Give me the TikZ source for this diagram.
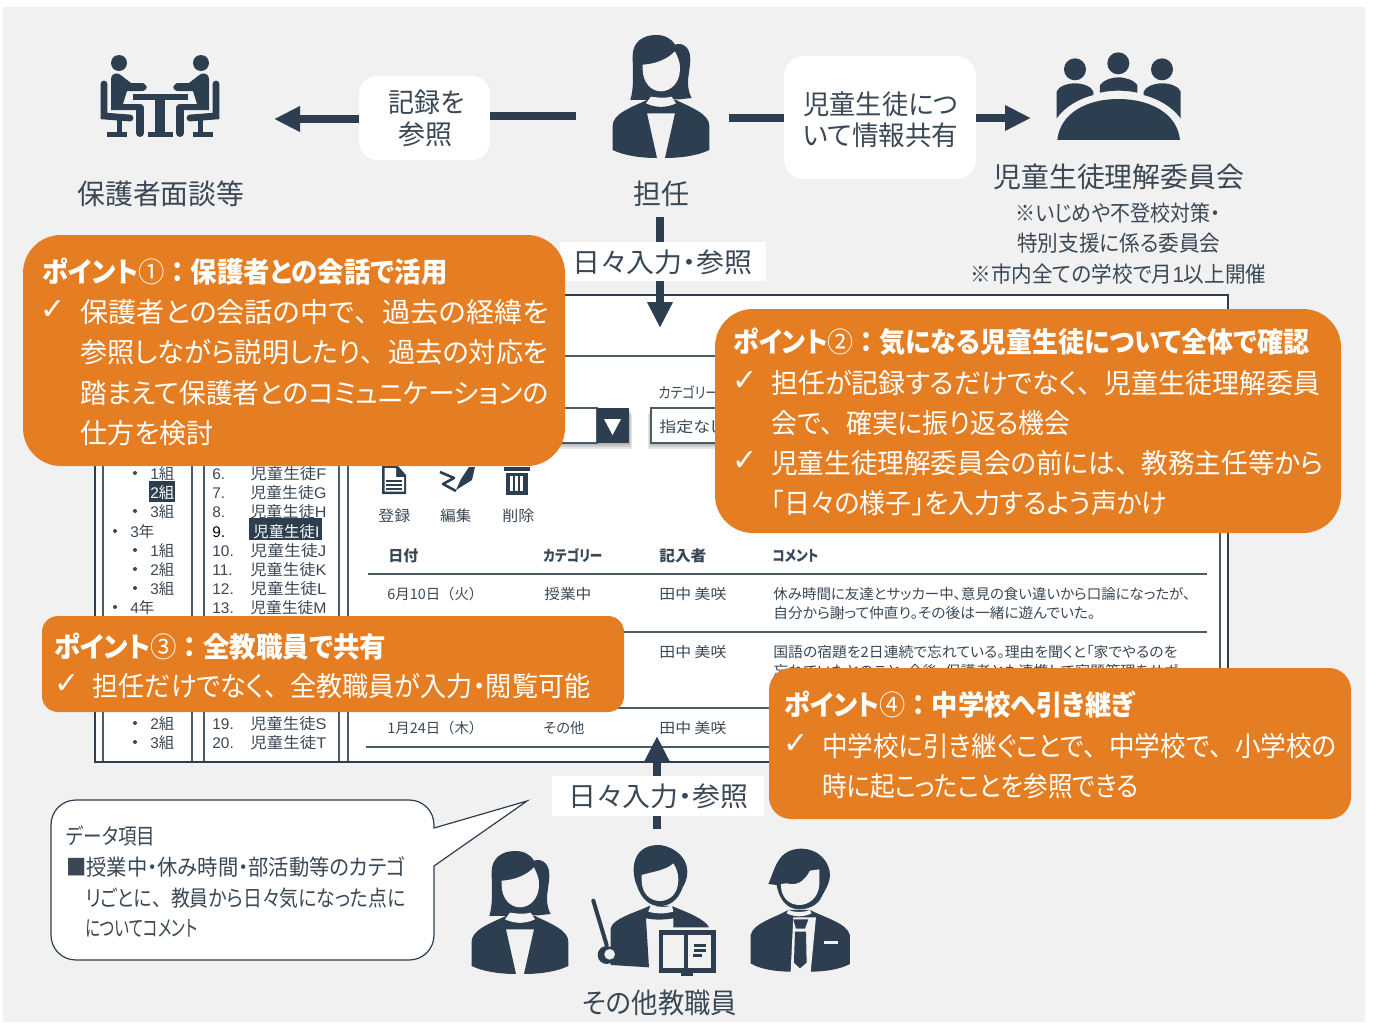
\documentclass[tikz,border=0pt]{standalone}
\usepackage{fontspec}
\usepackage{graphicx}
\setmainfont[RawFeature=+palt]{Noto Sans CJK JP}
\newfontfamily\nopalt{Noto Sans CJK JP}
\newfontfamily\lat{Liberation Sans}
\newfontfamily\sym{DejaVu Sans}
\usetikzlibrary{arrows.meta}
\definecolor{ink}{HTML}{2C3E50}
\definecolor{txtc}{HTML}{3A4856}
\definecolor{orng}{HTML}{E57E23}
\definecolor{bgc}{HTML}{F1F1F1}
\newsavebox\fitbox
\newlength\fitlen
\newcommand\fitw[2]{\sbox\fitbox{#2}\setlength\fitlen{\wd\fitbox}\pgfmathsetmacro\fitr{#1*0.5/\fitlen}\scalebox{\fitr}[1]{\usebox\fitbox}}
\newcommand\ful[1]{{\nopalt #1}}
\newcommand\pnum[1]{{\mdseries\nopalt #1}}
\tikzset{
  txt/.style={inner sep=0pt,anchor=west,yshift=-0.4pt,text=txtc,font=\fontsize{#1}{#1}\selectfont},
  wtxt/.style={inner sep=0pt,anchor=west,yshift=-0.4pt,text=white,font=\fontsize{#1}{#1}\selectfont},
  wbold/.style={inner sep=0pt,anchor=west,yshift=-0.4pt,text=white,font=\fontsize{#1}{#1}\selectfont\bfseries},
  tick/.style={inner sep=0pt,text=white,font=\sym\fontsize{15}{15}\selectfont},
  ico/.style={fill=ink},
  hole/.style={fill=bgc},
  obox/.style={fill=orng,inner sep=0pt,draw=none},
  wbox/.style={fill=white,inner sep=0pt,draw=none},
  conn/.style={draw=ink,line width=4pt},
  wline/.style={draw=ink!85,line width=0.8pt},
  frame/.style={draw=ink!85,line width=1.1pt},
  big tip/.style={-{Triangle[length=13pt,width=12pt]}},
}
\newcommand\femaleicon{
  \fill[ico] (88,258) .. controls (100,220) and (95,170) .. (95,125) .. controls (95,85) and (125,63) .. (165,63) .. controls (190,63) and (210,72) .. (222,92) .. controls (240,85) and (268,95) .. (268,135) .. controls (268,175) and (250,210) .. (272,252) -- (235,256) -- (130,258) -- cycle;
  \fill[hole] (125,152) .. controls (165,150) and (200,135) .. (222,112) .. controls (230,130) and (237,140) .. (237,165) .. controls (237,205) and (210,232) .. (180,232) .. controls (150,232) and (125,205) .. (125,165) -- cycle;
  \fill[ico] (35,408) -- (35,335) .. controls (35,300) and (90,280) .. (138,258) -- (225,258) .. controls (270,280) and (325,300) .. (325,335) -- (325,408) .. controls (290,425) and (240,432) .. (192,432) -- (222,298) -- (138,298) -- (168,432) .. controls (120,432) and (70,425) .. (35,408) -- cycle;
  \fill[hole] (150,248) .. controls (175,252) and (200,252) .. (212,248) -- (225,268) .. controls (195,282) and (165,282) .. (135,268) -- cycle;
}
\begin{document}
\begin{tikzpicture}[x=0.5pt,y=-0.5pt]
\useasboundingbox (0,0) rectangle (1373,1023);
\fill[white] (0,0) rectangle (1373,1023);
\fill[bgc] (3,7) rectangle (1365,1022);

% ---------- window ----------
\fill[white] (95,295) rectangle (1228,762);
\draw[draw=ink,line width=1.4pt] (95,295) rectangle (1228,762);
\draw[frame] (103,300) -- (103,761);
\draw[frame] (192,300) -- (192,761);
\draw[frame] (204,300) -- (204,761);
\draw[frame] (339,300) -- (339,761);
\draw[frame] (348,300) -- (348,761);
\draw[frame] (1220,356) -- (1220,761);
\draw[wline] (348,356) -- (1220,356);
\draw[wline] (368,574) -- (1207,574);
\draw[wline] (368,632) -- (1207,632);
\draw[wline] (368,708) -- (1207,708);
\draw[wline] (366,747) -- (1207,747);

% left lists
\fill[ink] (149,481) rectangle (175,502);
\fill[ink] (249,518) rectangle (322,540);
\node[inner sep=0pt,anchor=west,yshift=-0.4pt,text=white,font=\fontsize{7.7}{7.7}\selectfont] (g12) at (150,492) {{\lat 2}組};
\foreach \y/\t/\n in {473/1/a,511/3/b,550/1/c,569/2/d,588/3/e,723/2/f,742/3/g}{
  \fill[txtc] (135,\y) circle (2);
  \node[txt=7.7] (g\n) at (150,\y) {{\lat \t}組};
}
\foreach \y/\t/\n in {531/3/h,607/4/i}{
  \fill[txtc] (115,\y) circle (2);
  \node[txt=7.7] (g\n) at (130,\y) {{\lat \t}年};
}
\foreach \y/\t/\m in {473/6/F,492/7/G,511/8/H,550/10/J,569/11/K,588/12/L,607/13/M,723/19/S,742/20/T}{
  \node[txt=7.7] (n\t) at (212,\y) {{\lat \t.}};
  \node[txt=7.7] (s\t) at (250,\y) {\fitw{76}{児童生徒{\lat \m}}};
}
\node[inner sep=0pt,anchor=west,yshift=-0.4pt,text=black,font=\fontsize{7.7}{7.7}\selectfont] (n9) at (212,531) {{\lat 9.}};
\node[inner sep=0pt,anchor=west,yshift=-0.4pt,text=white,font=\fontsize{7.7}{7.7}\selectfont] (s9) at (253,531) {児童生徒{\lat I}};

% filters
\foreach \d in {2,4,6}{
  \fill[black,opacity=.1] (560,408+\d) rectangle (629+\d*0.5,443+\d);
  \fill[black,opacity=.1] (651-\d*0.5,408+\d) rectangle (790,443+\d);
}
\draw[frame,fill=white] (540,408) rectangle (597,443);
\fill[ink] (597,408) rectangle (629,443);
\fill[white] (604,419) -- (621,419) -- (612.5,435) -- cycle;
\draw[frame,fill=white] (651,408) rectangle (790,443);
\node[txt=7.5] (catl) at (658,392) {\fitw{60}{カテゴリー}};
\node[txt=7.5] (catv) at (659,426) {\fitw{65}{指定なし}};

% tool icons
\fill[ink] (382,466) -- (398,466) -- (406,475) -- (406,494) -- (382,494) -- cycle;
\fill[white] (384.5,468) -- (396,468) -- (396,477) -- (404,477) -- (404,491.5) -- (384.5,491.5) -- cycle;
\foreach \y in {480,484,488}{\fill[ink] (386,\y) rectangle (402,\y+2);}
\draw[ink,line width=1.3pt,line join=round] (440,472) -- (454,478) -- (443,484) -- (456,491);
\fill[ink] (456,490) -- (461,479) -- (469,467) -- (475,467) -- (472,480) -- cycle;
\fill[ink] (504,467) rectangle (530,471);
\fill[ink] (506,473) rectangle (528,495);
\foreach \x in {510,515,520}{\fill[white] (\x,476) rectangle (\x+3,491);}
\node[txt=7.5] (reg) at (378,515) {\fitw{32}{登録}};
\node[txt=7.5] (edi) at (440,515) {\fitw{31}{編集}};
\node[txt=7.5] (del) at (502,515) {\fitw{32}{削除}};

% table
\node[txt=7.5,font=\fontsize{7.5}{7.5}\selectfont\bfseries] (h1) at (388,555) {\fitw{30}{日付}};
\node[txt=7.5,font=\fontsize{7.5}{7.5}\selectfont\bfseries] (h2) at (543,555) {\fitw{59}{カテゴリー}};
\node[txt=7.5,font=\fontsize{7.5}{7.5}\selectfont\bfseries] (h3) at (659,555) {\fitw{47}{記入者}};
\node[txt=7.5,font=\fontsize{7.5}{7.5}\selectfont\bfseries] (h4) at (772,555) {\fitw{46}{コメント}};
\node[txt=7.2] (r1a) at (387,593) {\fitw{96}{6月10日\ful{（}火\ful{）}}};
\node[txt=7.2] (r1b) at (544,593) {\fitw{47}{授業中}};
\node[txt=7.2] (r1c) at (659,593) {\fitw{67}{田中 美咲}};
\node[txt=7.2] (r1d) at (773,593) {\fitw{417}{休み時間に友達とサッカー中、意見の食い違いから口論になったが、}};
\node[txt=7.2] (r1e) at (773,612) {\fitw{322}{自分から謝って仲直り。その後は一緒に遊んでいた。}};
\node[txt=7.2] (r2c) at (659,651) {\fitw{67}{田中 美咲}};
\node[txt=7.2] (r2d) at (773,651) {\fitw{404}{国語の宿題を2日連続で忘れている。理由を聞くと「家でやるのを}};
\node[txt=7.2] (r2e) at (773,670) {\fitw{405}{忘れていたとのこと。今後、保護者とも連携して宿題管理をサポ}};
\node[txt=7.2] (r3a) at (387,727) {\fitw{96}{1月24日\ful{（}木\ful{）}}};
\node[txt=7.2] (r3b) at (543,727) {\fitw{41}{その他}};
\node[txt=7.2] (r3c) at (659,727) {\fitw{67}{田中 美咲}};

% ---------- top icons ----------
\begin{scope}[shift={(601,14)},scale=0.3333]\femaleicon\end{scope}
% meeting
\begin{scope}
  \foreach \m in {0,1}{
  \begin{scope}[shift={(\m*320,0)},xscale={1-2*\m}]
    \fill[ink] (119,63) ellipse (8 and 8);
    \draw[ink,line width=3.4pt,line cap=round] (104,84) -- (104,116) -- (130,118);
    \fill[ink] (111,110) -- (111,80) .. controls (111,72) and (118,72) .. (122,76) -- (131,83) -- (143,83) .. controls (148,86) and (148,89) .. (143,91) -- (127,91) -- (123,104) -- (140,104) .. controls (144,105) and (144,108) .. (144,110) -- cycle;
    \draw[ink,line width=4pt,line cap=round] (140,108) -- (140,133);
    \fill[ink] (117,118) rectangle (122,133);
    \fill[ink] (107,132) rectangle (127,137);
  \end{scope}}
  \fill[ink] (133,94) rectangle (188,100);
  \fill[ink] (155,100) rectangle (165,133);
  \fill[ink] (148,132) rectangle (173,137);
\end{scope}
% committee
\begin{scope}[shift={(1030,30)},scale=0.3333]
  \fill[ink] (135,118) circle (33);
  \fill[ink] (265,100) circle (33);
  \fill[ink] (396,118) circle (33);
  \fill[ink] (80,265) -- (80,185) .. controls (85,170) and (110,160) .. (135,160) .. controls (160,160) and (185,170) .. (190,185) -- (190,195) .. controls (145,207) and (105,230) .. (80,265) -- cycle;
  \fill[ink] (452,265) -- (452,185) .. controls (447,170) and (422,160) .. (397,160) .. controls (372,160) and (347,170) .. (341,185) -- (341,195) .. controls (386,207) and (426,230) .. (452,265) -- cycle;
  \fill[ink] (210,188) -- (210,165) .. controls (220,150) and (245,142) .. (265,142) .. controls (285,142) and (312,150) .. (322,165) -- (322,188) .. controls (285,180) and (245,180) .. (210,188) -- cycle;
  \fill[ink] (82,330) .. controls (90,250) and (170,207) .. (265,207) .. controls (360,207) and (442,250) .. (450,330) -- cycle;
\end{scope}

% ---------- labels top ----------
\node[txt=14] (lmeet) at (77,193) {\fitw{167}{保護者面談等}};
\node[txt=14] (lteach) at (633,193) {\fitw{56}{担任}};
\node[txt=14] (lcomm) at (993,176) {\fitw{251}{児童生徒理解委員会}};
\node[txt=11] (lc1) at (1015,212) {\fitw{205}{※いじめや不登校対策・}};
\node[txt=11] (lc2) at (1017,242) {\fitw{203}{特別支援に係る委員会}};
\node[txt=11] (lc3) at (970,273) {\fitw{296}{※市内全ての学校で月{\lat 1}以上開催}};

% connector labels
\node[wbox,rounded corners=9pt,minimum width=65.5pt,minimum height=42pt] (rec) at (424.5,118) {};
\node[txt=13.5] (rec1) at (388,101) {\fitw{76}{記録を}};
\node[txt=13.5] (rec2) at (398,134) {\fitw{54}{参照}};
\node[wbox,rounded corners=10pt,minimum width=96pt,minimum height=61.5pt] (share) at (880,117.5) {};
\node[txt=13.5] (sh1) at (803,103) {\fitw{155}{児童生徒につ}};
\node[txt=13.5] (sh2) at (803,134) {\fitw{155}{いて情報共有}};
\node[wbox,minimum width=103pt,minimum height=19.5pt] (day1) at (663,261.5) {};
\node[txt=13.5] (day1t) at (572,262) {\fitw{180}{日々入力・参照}};
\node[wbox,minimum width=106pt,minimum height=20pt] (day2) at (658,796) {};
\node[txt=13.5] (day2t) at (568,796) {\fitw{180}{日々入力・参照}};

% ---------- connectors ----------
\coordinate (tleft) at (576,116);
\coordinate (mtip) at (274,119);
\coordinate (tright) at (729,118);
\coordinate (ctip) at (1031,118);
\coordinate (tdown) at (660,217);
\coordinate (wtip) at (660,328);
\coordinate (wup) at (657,736);
\coordinate (ostaff) at (657,829);
\draw[conn] (tleft) -- (rec.east |- tleft);
\draw[conn,big tip] (rec.west |- mtip) -- (mtip);
\draw[conn] (tright) -- (share.west |- tright);
\draw[conn,big tip] (share.east |- ctip) -- (ctip);
\draw[conn] (tdown) -- (tdown |- day1.north);
\draw[conn,big tip] (wtip |- day1.south) -- (wtip);
\draw[conn,big tip] (wup |- day2.north) -- (wup);
\draw[conn] (ostaff |- day2.south) -- (ostaff);

% ---------- orange boxes ----------
\node[obox,rounded corners=19pt,minimum width=271pt,minimum height=115.5pt] (p1) at (294,350.5) {};
\node[wbold=14] (p1t) at (42,271) {\fitw{405}{ポイント\pnum{①}\ful{：}保護者との会話で活用}};
\node[tick] (p1c) at (53,310) {✓};
\node[wtxt=13.7] (p1a) at (80,311) {\fitw{468}{保護者との会話の中で\ful{、}過去の経緯を}};
\node[wtxt=13.7] (p1b) at (80,351) {\fitw{468}{参照しながら説明したり\ful{、}過去の対応を}};
\node[wtxt=13.7] (p1d) at (80,392) {\fitw{468}{踏まえて保護者とのコミュニケーションの}};
\node[wtxt=13.7] (p1e) at (80,432) {\fitw{133}{仕方を検討}};

\node[obox,rounded corners=19pt,minimum width=313pt,minimum height=112pt] (p2) at (1028,421) {};
\node[wbold=14] (p2t) at (733,341) {\fitw{576}{ポイント\pnum{②}\ful{：}気になる児童生徒について全体で確認}};
\node[tick] (p2c) at (745,381) {✓};
\node[wtxt=13.7] (p2a) at (771,382) {\fitw{549}{担任が記録するだけでなく\ful{、}児童生徒理解委員}};
\node[wtxt=13.7] (p2b) at (771,422) {\fitw{299}{会で\ful{、}確実に振り返る機会}};
\node[tick] (p2e) at (745,461) {✓};
\node[wtxt=13.7] (p2f) at (771,462) {\fitw{552}{児童生徒理解委員会の前には\ful{、}教務主任等から}};
\node[wtxt=13.7] (p2g) at (771,502) {\fitw{396}{「日々の様子」を入力するよう声かけ}};

\node[obox,rounded corners=8pt,minimum width=291pt,minimum height=48pt] (p3) at (333,664) {};
\node[wbold=14] (p3t) at (54,646) {\fitw{332}{ポイント\pnum{③}\ful{：}全教職員で共有}};
\node[tick] (p3c) at (67,684) {✓};
\node[wtxt=13.7] (p3a) at (92,685) {\fitw{498}{担任だけでなく\ful{、}全教職員が入力・閲覧可能}};

\node[obox,rounded corners=11pt,minimum width=291pt,minimum height=75.5pt] (p4) at (1060,743.5) {};
\node[wbold=14] (p4t) at (784,704) {\fitw{351}{ポイント\pnum{④}\ful{：}中学校へ引き継ぎ}};
\node[tick] (p4c) at (796,744) {✓};
\node[wtxt=13.7] (p4a) at (822,745) {\fitw{514}{中学校に引き継ぐことで\ful{、}中学校で\ful{、}小学校の}};
\node[wtxt=13.7] (p4b) at (822,785) {\fitw{316}{時に起こったことを参照できる}};

% ---------- callout ----------
\draw[fill=white,draw=ink,line width=0.6pt] (76,800) -- (409,800) .. controls (423,800) and (434,811) .. (434,825) -- (434,828) -- (527,801) -- (434,866) -- (434,935) .. controls (434,949) and (423,960) .. (409,960) -- (76,960) .. controls (62,960) and (51,949) .. (51,935) -- (51,825) .. controls (51,811) and (62,800) .. (76,800) -- cycle;
\node[txt=11] (c1) at (66,835) {\fitw{89}{データ項目}};
\node[txt=11] (c2) at (66,866) {\fitw{339}{■授業中・休み時間・部活動等のカテゴ}};
\node[txt=11] (c3) at (85,897) {\fitw{320}{リごとに\ful{、}教員から日々気になった点に}};
\node[txt=11] (c4) at (85,928) {\fitw{112}{についてコメント}};

% ---------- bottom icons ----------
\begin{scope}[shift={(460,830)},scale=0.3333]
  \femaleicon
  % teacher
  \fill[ico] (530,165) .. controls (515,130) and (510,50) .. (590,45) .. controls (620,42) and (682,70) .. (682,125) .. controls (682,150) and (672,165) .. (668,172) .. controls (655,210) and (630,228) .. (600,228) .. controls (570,228) and (545,210) .. (530,165) -- cycle;
  \fill[hole] (545,135) .. controls (580,125) and (620,120) .. (640,100) .. controls (650,115) and (655,130) .. (655,150) .. controls (655,190) and (630,213) .. (600,213) .. controls (570,213) and (545,190) .. (545,150) -- cycle;
  \fill[ico] (452,405) -- (452,295) .. controls (460,265) and (520,250) .. (568,228) -- (635,228) .. controls (690,250) and (735,268) .. (747,292) -- (640,292) -- (640,265) .. controls (610,270) and (585,270) .. (558,265) -- (567,412) -- cycle;
  \fill[hole] (572,226) .. controls (600,232) and (625,232) .. (636,226) -- (640,245) .. controls (610,252) and (590,252) .. (565,245) -- cycle;
  \draw[ink,line width=2pt,line cap=round] (400,212) -- (440,345);
  \fill[ink] (440,375) circle (27);
  \fill[hole] (449,373) circle (16);
  \fill[ink] (596,300) rectangle (767,430);
  \fill[ink] (663,430) rectangle (700,437);
  \fill[hole] (610,316) rectangle (672,415);
  \fill[hole] (685,316) rectangle (752,415);
  \fill[ink] (702,342) rectangle (738,351);
  \fill[ink] (702,357) rectangle (738,366);
  \fill[ink] (700,372) rectangle (726,381);
  % male
  \fill[ico] (925,162) .. controls (945,120) and (950,60) .. (1020,56) .. controls (1080,55) and (1110,100) .. (1110,135) .. controls (1108,165) and (1095,180) .. (1085,200) .. controls (1075,225) and (1045,238) .. (1018,238) .. controls (990,238) and (960,220) .. (950,165) -- cycle;
  \fill[hole] (963,162) -- (980,160) .. controls (1020,172) and (1040,140) .. (1050,122) -- (1078,118) -- (1078,165) .. controls (1075,205) and (1045,225) .. (1018,225) .. controls (990,225) and (963,205) .. (963,165) -- cycle;
  \fill[ico] (872,400) -- (872,315) .. controls (880,280) and (940,265) .. (985,240) -- (1050,240) .. controls (1100,265) and (1160,280) .. (1170,315) -- (1170,402) .. controls (1140,418) and (1095,425) .. (1052,425) -- (992,425) .. controls (950,425) and (900,418) .. (872,400) -- cycle;
  \fill[hole] (985,240) .. controls (1005,248) and (1030,248) .. (1050,240) -- (1055,250) .. controls (1030,262) and (1005,262) .. (980,250) -- cycle;
  \fill[hole] (1000,262) -- (1068,262) -- (1052,427) -- (992,427) -- cycle;
  \fill[ink] (1000,268) -- (1045,268) -- (1035,296) -- (1008,296) -- cycle;
  \fill[ink] (1005,305) -- (1038,305) -- (1040,398) -- (1020,415) -- (1002,398) -- cycle;
  \fill[hole] (1092,332) rectangle (1134,342);
\end{scope}
\node[txt=14] (lstaff) at (582,1002) {\fitw{155}{その他教職員}};
\end{tikzpicture}
\end{document}
